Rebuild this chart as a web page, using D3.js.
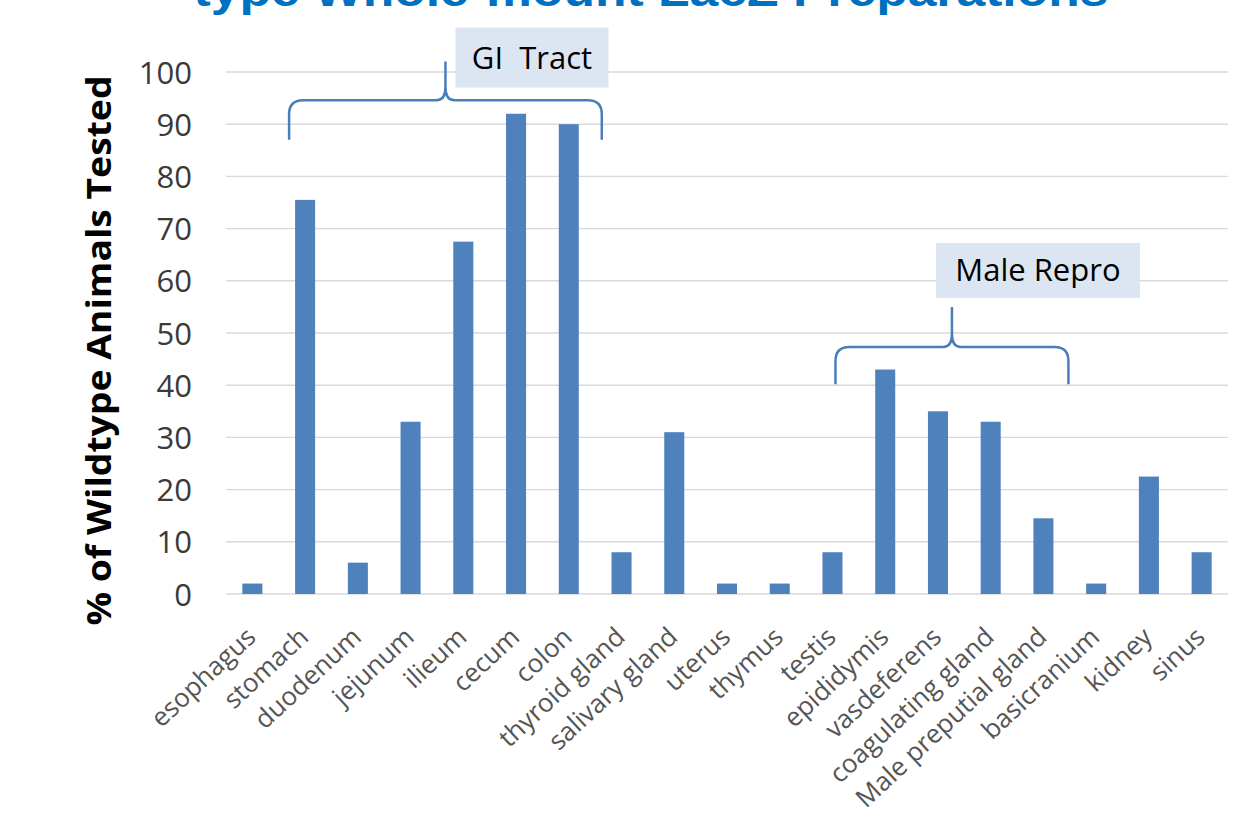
<!DOCTYPE html>
<html>
<head>
<meta charset="utf-8">
<script src="https://cdn.jsdelivr.net/npm/d3@7"></script>
<style>
  body { margin: 0; background: #fff; }
  svg { display: block; }
</style>
</head>
<body>
<div id="chart"></div>
<script>
// data
const tissues = ['esophagus', 'stomach', 'duodenum', 'jejunum', 'ilieum', 'cecum', 'colon',
  'thyroid gland', 'salivary gland', 'uterus', 'thymus', 'testis', 'epididymis', 'vasdeferens',
  'coagulating gland', 'Male preputial gland', 'basicranium', 'kidney', 'sinus'];
const percentPositive = [2, 75.5, 6, 33, 67.5, 92, 90, 8, 31, 2, 2, 8, 43, 35, 33, 14.5, 2, 22.5, 8];
const yTicks = [0, 10, 20, 30, 40, 50, 60, 70, 80, 90, 100];
const titleText = 'type Whole-mount LacZ Preparations';
const yTitle = '% of Wildtype Animals Tested';
// groups marked with a brace: first tissue, last tissue, label, brace level (value)
const groups = [
  { from: 'stomach', to: 'colon', label: 'GI  Tract', level: 94.6, ends: 87, peak: 102 },
  { from: 'testis', to: 'Male preputial gland', label: 'Male Repro', level: 47.3, ends: 40.2, peak: 55 }
];

const width = 1256, height = 821;
const plotLeft = 226, plotRight = 1228, plotTop = 72, plotBottom = 594;

const svg = d3.select('#chart').append('svg')
  .attr('width', width)
  .attr('height', height);

const x = d3.scaleBand()
  .domain(tissues)
  .range([plotLeft, plotRight])
  .paddingInner(0.62)
  .paddingOuter(0.31);

const y = d3.scaleLinear()
  .domain([0, 100])
  .range([plotBottom, plotTop]);

// title, cut off by the top edge as in the slide
svg.append('text')
  .attr('x', 651)
  .attr('y', 6)
  .attr('text-anchor', 'middle')
  .attr('textLength', 915)
  .attr('lengthAdjust', 'spacingAndGlyphs')
  .style('font-family', 'Liberation Sans, Arial, sans-serif')
  .style('font-weight', 'bold')
  .style('font-size', '44px')
  .attr('fill', '#0070c0')
  .text(titleText);

// grid
const grid = svg.append('g');
grid.selectAll('line')
  .data(yTicks)
  .join('line')
  .attr('x1', plotLeft)
  .attr('x2', plotRight)
  .attr('y1', d => y(d))
  .attr('y2', d => y(d))
  .attr('stroke', '#d9d9d9')
  .attr('stroke-width', 1.4);

// y axis labels
const yAxis = svg.append('g')
  .attr('transform', `translate(${plotLeft - 34},0)`)
  .call(d3.axisLeft(y).tickValues(yTicks).tickSize(0).tickPadding(0));
yAxis.select('.domain').remove();
yAxis.selectAll('text')
  .attr('dy', '0.36em')
  .style('font-family', 'Open Sans, sans-serif')
  .style('font-size', '31px')
  .attr('fill', '#3a3a3a');

svg.append('text')
  .attr('transform', `translate(111,${(plotTop + 625) / 2 + 2}) rotate(-90)`)
  .attr('text-anchor', 'middle')
  .attr('textLength', 550)
  .attr('lengthAdjust', 'spacingAndGlyphs')
  .style('font-family', 'Open Sans, sans-serif')
  .style('font-weight', 'bold')
  .style('font-size', '34px')
  .attr('fill', '#000')
  .text(yTitle);

// bars
svg.append('g').selectAll('rect')
  .data(tissues)
  .join('rect')
  .attr('x', d => x(d))
  .attr('width', x.bandwidth())
  .attr('y', (d, i) => y(percentPositive[i]))
  .attr('height', (d, i) => y(0) - y(percentPositive[i]))
  .attr('fill', '#4f81bd');

// x labels
const xAxis = svg.append('g')
  .attr('transform', `translate(0,${plotBottom})`)
  .call(d3.axisBottom(x).tickSize(0).tickPadding(0));
xAxis.select('.domain').remove();
xAxis.selectAll('text')
  .attr('text-anchor', 'end')
  .attr('dy', null)
  .attr('y', 0)
  .attr('transform', 'translate(5,45) rotate(-43)')
  .style('font-family', 'Open Sans, sans-serif')
  .style('font-size', '26px')
  .attr('fill', '#555');

// braces with labels
const centre = d => x(d) + x.bandwidth() / 2;
groups.forEach((g, k) => {
  const x0 = centre(g.from) + (k === 0 ? -16 : 3);
  const x1 = centre(g.to) + (k === 0 ? 33 : 25);
  const xm = (x0 + x1) / 2;
  const yl = y(g.level), ye = y(g.ends), yp = y(g.peak);
  const r = 14;
  const p = d3.path();
  p.moveTo(x0, ye);
  p.lineTo(x0, yl + r);
  p.quadraticCurveTo(x0, yl, x0 + r, yl);
  p.lineTo(xm - 9, yl);
  p.quadraticCurveTo(xm, yl, xm, yl - 13);
  p.lineTo(xm, yp);
  p.moveTo(xm, yl - 13);
  p.quadraticCurveTo(xm, yl, xm + 9, yl);
  p.lineTo(x1 - r, yl);
  p.quadraticCurveTo(x1, yl, x1, yl + r);
  p.lineTo(x1, ye);
  svg.append('path')
    .attr('d', p.toString())
    .attr('fill', 'none')
    .attr('stroke', '#4a7ebb')
    .attr('stroke-width', 2.5);

  const bw = k === 0 ? 153 : 204, bh = k === 0 ? 60 : 55;
  const bx = k === 0 ? xm + 10 : xm - 16;
  const by = k === 0 ? yp - 34 : yp - 64;
  svg.append('rect')
    .attr('x', bx).attr('y', by)
    .attr('width', bw).attr('height', bh)
    .attr('fill', '#dce6f2');
  svg.append('text')
    .attr('x', bx + bw / 2)
    .attr('y', by + bh / 2 + 11)
    .attr('text-anchor', 'middle')
    .style('font-family', 'Open Sans, sans-serif')
    .style('font-size', '31px')
    .attr('fill', '#000')
    .style('white-space', 'pre')
    .text(g.label);
});
</script>
</body>
</html>
